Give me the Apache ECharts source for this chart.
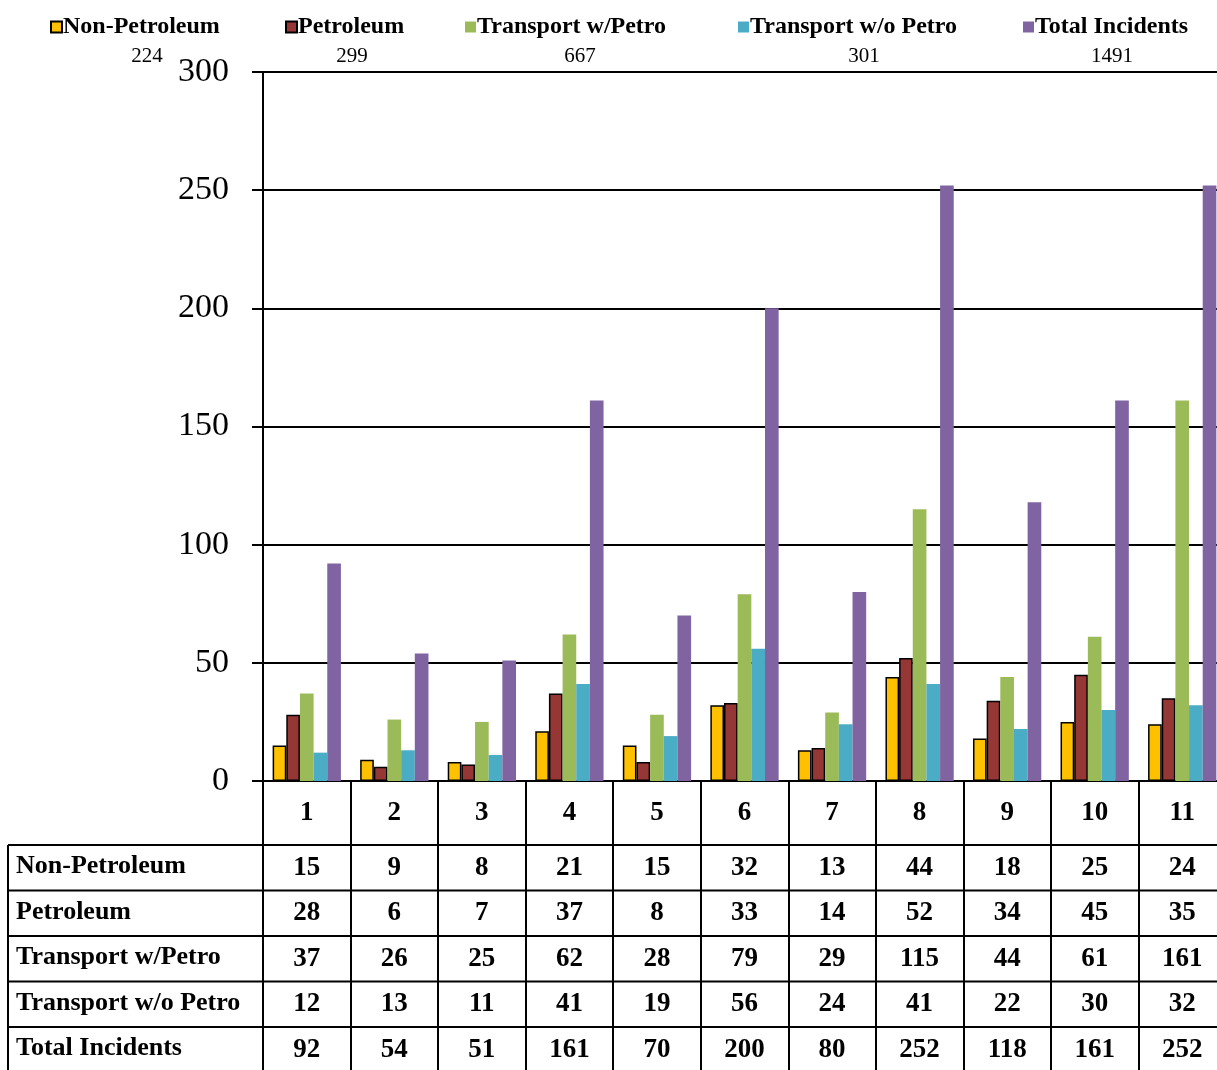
<!DOCTYPE html>
<html><head><meta charset="utf-8">
<script src="https://cdn.jsdelivr.net/npm/echarts@6/dist/echarts.min.js"></script>
<style>html,body{margin:0;padding:0;background:#fff;overflow:hidden;width:1217px;height:1070px}#c{width:1226px;height:1070px}</style>
</head><body><div id="c"></div>
<script>
const categories = ['1','2','3','4','5','6','7','8','9','10','11'];
const seriesNames = ['Non-Petroleum','Petroleum','Transport w/Petro','Transport w/o Petro','Total Incidents'];
const nonPetroleum = [15,9,8,21,15,32,13,44,18,25,24];
const petroleum = [28,6,7,37,8,33,14,52,34,45,35];
const transportWithPetro = [37,26,25,62,28,79,29,115,44,61,161];
const transportWithoutPetro = [12,13,11,41,19,56,24,41,22,30,32];
const totalIncidents = [92,54,51,161,70,200,80,252,118,161,252];
const topNumbers = ['224','299','667','301','1491'];
const yTicks = [0,50,100,150,200,250,300];

const seriesData = [nonPetroleum, petroleum, transportWithPetro, transportWithoutPetro, totalIncidents];
const colors = ['#FFC000','#953735','#9BBB59','#4BACC6','#8064A2'];
const bordered = [true,true,false,false,false];
const FONT = 'Liberation Serif';

const gridTop = 72, gridBottomY = 781, H = 1070, W = 1226;
const headerH = 64, rowH = 45.5;

const chart = echarts.init(document.getElementById('c'));

const graphics = [];
for (let i = 0; i < 5; i++) {
  const y = gridBottomY + headerH + i * rowH;
  graphics.push({type:'line', shape:{x1:8,y1:y,x2:W,y2:y}, style:{stroke:'#000',lineWidth:2}, z:100});
  graphics.push({type:'text', left:16, top: y + rowH/2 - 14,
    style:{text: seriesNames[i], font:'bold 26px "' + FONT + '"', fill:'#000'}, z:100});
}
graphics.push({type:'line', shape:{x1:8,y1:gridBottomY+headerH,x2:8,y2:H}, style:{stroke:'#000',lineWidth:2}, z:100});
const topPos = [[147,56],[352,56],[580,56],[864,56],[1112,56]];
topNumbers.forEach((t,i)=>{
  graphics.push({type:'text', x: topPos[i][0], y: topPos[i][1],
    style:{text:t, font:'21px "' + FONT + '"', fill:'#000', textAlign:'center', textVerticalAlign:'middle'}, z:100});
});

const legendLeft = [45, 280, 460, 733, 1018];
const legends = seriesNames.map((n,i)=>({
  top:10, left:legendLeft[i], itemWidth:11, itemHeight:11, icon:'rect',
  textStyle:{fontFamily:FONT, fontWeight:'bold', fontSize:24, color:'#000', padding:[0,0,0,-4]},
  data:[n]
}));

chart.setOption({
  animation:false,
  backgroundColor:'#fff',
  legend: legends,
  grid:{left:263, right:0, top:gridTop, bottom:H-gridBottomY, containLabel:false},
  xAxis:{
    type:'category', data:categories,
    axisLine:{lineStyle:{color:'#000',width:2}},
    axisTick:{show:true, length:H-gridBottomY+5, lineStyle:{color:'#000',width:2}},
    axisLabel:{
      interval:0, margin:0, color:'#000',
      formatter:(v, idx)=>{
        let s = '{h|' + v + '}';
        seriesData.forEach(d=>{ s += '\n{v|' + d[idx] + '}'; });
        return s;
      },
      rich:{
        h:{fontFamily:FONT, fontWeight:'bold', fontSize:27, lineHeight:headerH, color:'#000'},
        v:{fontFamily:FONT, fontWeight:'bold', fontSize:27, lineHeight:rowH, color:'#000'}
      }
    }
  },
  yAxis:{
    type:'value', min:0, max:300, interval:50,
    axisLine:{show:true, lineStyle:{color:'#000',width:2}},
    axisTick:{show:true, length:11, lineStyle:{color:'#000',width:2}},
    axisLabel:{margin:34, fontFamily:FONT, fontSize:34, color:'#000',
      formatter:v=> yTicks.includes(v) ? String(v) : ''},
    splitLine:{lineStyle:{color:'#000',width:2}}
  },
  series: seriesNames.map((name,i)=>({
    name, type:'bar', data: seriesData[i],
    barGap:'0%', barCategoryGap:'22%',
    itemStyle:{color:colors[i], borderColor: bordered[i] ? '#000' : colors[i], borderWidth: bordered[i] ? 1.5 : 0}
  })),
  graphic: graphics
});
</script></body></html>
